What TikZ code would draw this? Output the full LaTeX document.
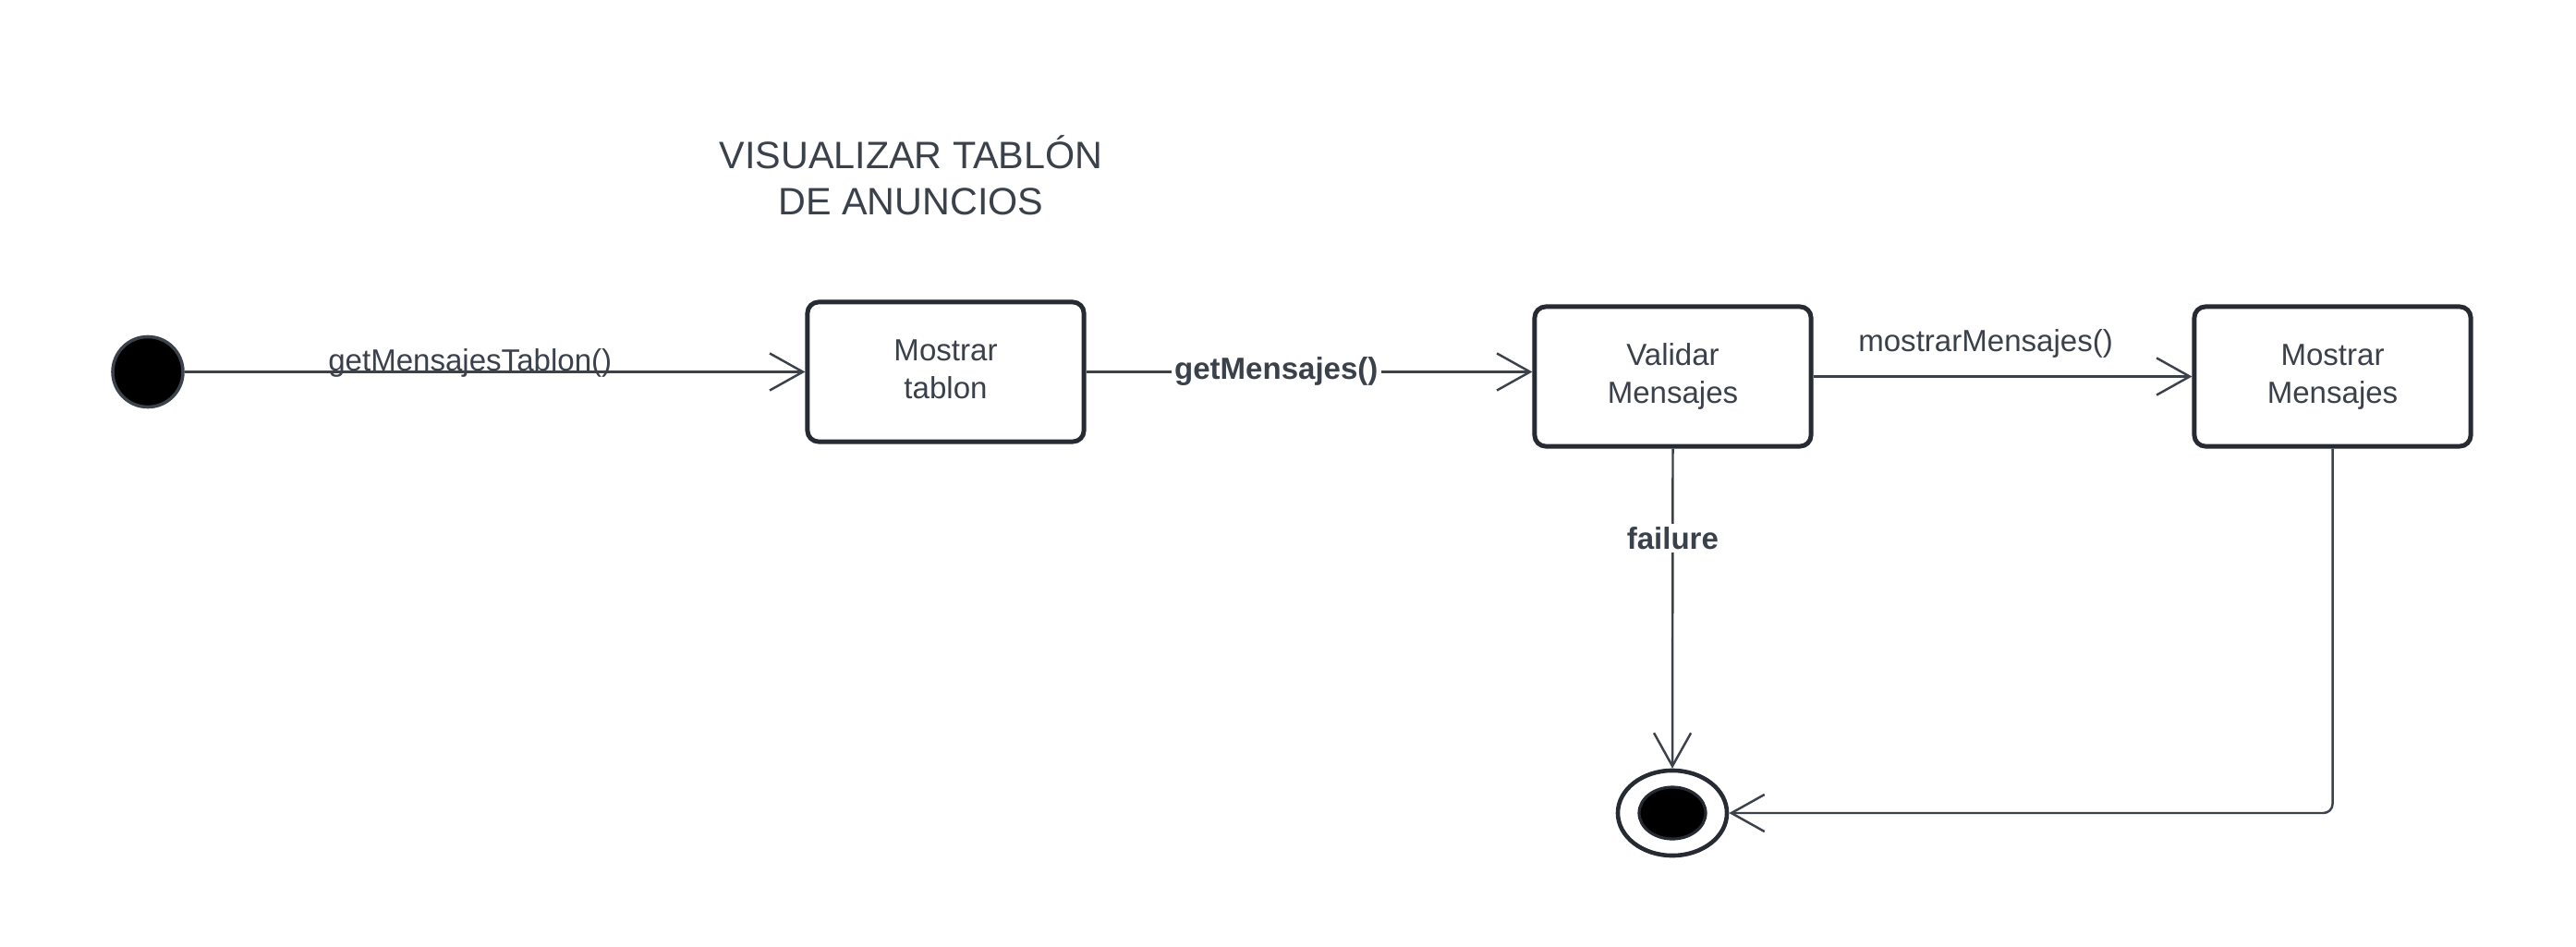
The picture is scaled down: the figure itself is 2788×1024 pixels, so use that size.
\documentclass[tikz,border=0pt]{standalone}
\usepackage{fontspec}
\setmainfont{Liberation Sans}
\usetikzlibrary{arrows.meta,shapes.geometric}
\definecolor{txtc}{RGB}{58,65,74}
\definecolor{linec}{RGB}{60,66,76}
\definecolor{boxc}{RGB}{38,42,50}
\newcommand{\boxtext}[2]{\raisebox{2.5pt}{\begin{tabular}{@{}c@{}}#1\\#2\end{tabular}}}
\tikzset{
  statebox/.style={draw=boxc, line width=1.4pt, rounded corners=3.4pt, fill=white,
    minimum width=2.99cm, minimum height=1.51cm, text=txtc,
    font=\fontsize{9.4pt}{11.6pt}\selectfont, inner sep=0pt},
  conn/.style={draw=linec, line width=0.7pt, -{Straight Barb[length=10.2pt, width=11.4pt, line width=0.7pt]}},
  lbl/.style={text=txtc, font=\fontsize{9.4pt}{11.6pt}\selectfont, inner sep=1pt},
  blbl/.style={lbl, font=\fontsize{9.4pt}{11.6pt}\selectfont\bfseries, fill=white}
}
\begin{document}
\begin{tikzpicture}[x=0.01cm, y=-0.01cm]
\useasboundingbox (0,0) rectangle (2788,1024);
% title
\node[text=txtc, align=center, font=\fontsize{11.75pt}{14.2pt}\selectfont, anchor=base] (title) at (986,232)
  {VISUALIZAR TABLÓN\\DE ANUNCIOS};
% initial state
\node[circle, fill=black, draw=linec, line width=1pt, minimum size=0.76cm, inner sep=0pt] (init) at (160,402.5) {};
% states
\node[statebox] (box1) at (1023.5,402.5) {\boxtext{Mostrar}{tablon}};
\node[statebox] (box2) at (1810.5,407.5) {\boxtext{Validar}{Mensajes}};
\node[statebox] (box3) at (2524.5,407.5) {\boxtext{Mostrar}{Mensajes}};
% final state
\node[ellipse, draw=boxc, line width=1.3pt, fill=white, minimum width=1.18cm, minimum height=0.92cm, inner sep=0pt] (final) at (1810,880) {};
\node[ellipse, draw=boxc, line width=0.9pt, fill=black, minimum width=0.72cm, minimum height=0.56cm, inner sep=0pt] (finalin) at (1810,880) {};
% connectors
\draw[conn] (init) -- node[lbl, pos=0.46, anchor=base, yshift=0.3pt] {getMensajesTablon()} (box1);
\draw[conn] (box1.east) -- node[blbl, pos=0.426] {getMensajes()} (box1.east -| box2.west);
\draw[conn] (box2) -- node[lbl, pos=0.455, anchor=base, yshift=7.7pt] {mostrarMensajes()} (box3);
\draw[conn] (box2.south) -- node[blbl, pos=0.28] {failure} (final.north);
\draw[conn, rounded corners=2.8pt] (box3.south) |- (final.east);
\end{tikzpicture}
\end{document}
